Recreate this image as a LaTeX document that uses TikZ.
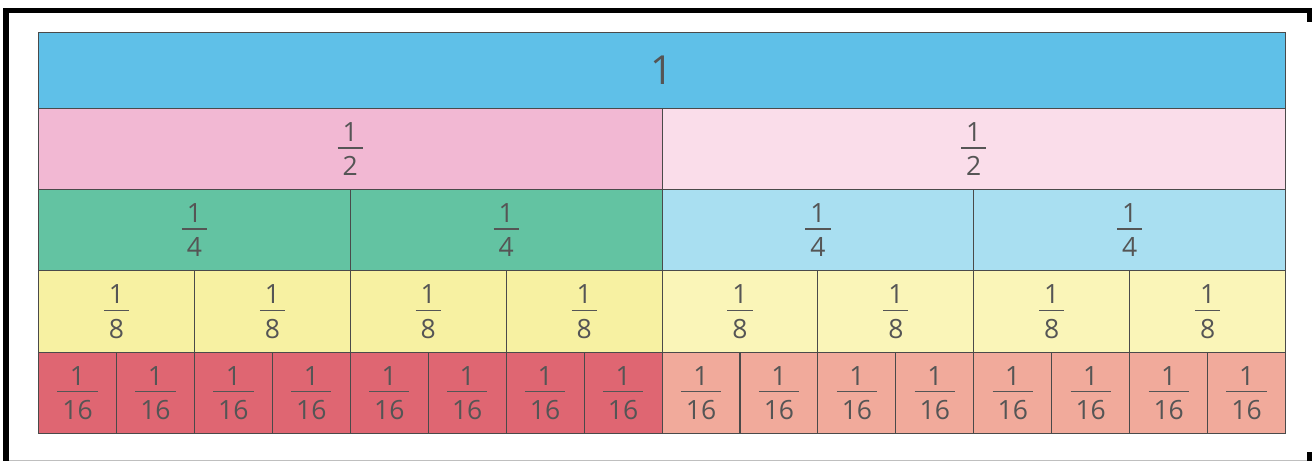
\documentclass[tikz,border=0pt]{standalone}
\usepackage{fontspec}
\newfontfamily\digfont{Open Sans}
\definecolor{cOne}{HTML}{5FC0E8}
\definecolor{cHalfA}{HTML}{F2B8D3}
\definecolor{cHalfB}{HTML}{FADDEA}
\definecolor{cQuarterA}{HTML}{63C3A2}
\definecolor{cQuarterB}{HTML}{A9DFF1}
\definecolor{cEighthA}{HTML}{F7F1A2}
\definecolor{cEighthB}{HTML}{FAF5B8}
\definecolor{cSixA}{HTML}{DF6672}
\definecolor{cSixB}{HTML}{F1AA9B}
\definecolor{ink}{HTML}{555555}
\definecolor{edge}{HTML}{4A4A4A}
\newcommand\myfr[1]{\vbox{\offinterlineskip\halign{\hfil\kern5pt##\kern5pt\hfil\cr
  1\cr\noalign{\kern6pt\hrule height 1.3pt\kern8pt}#1\cr}}}
\begin{document}
\begin{tikzpicture}[x=1pt,y=-1pt,
  cell/.style={draw=edge,line width=1.1pt,anchor=north west,inner sep=0pt,
    text=ink,font=\digfont\fontsize{26.5}{30}\selectfont},
  frame/.style={fill=black}]
\useasboundingbox (0,0) rectangle (1312,461);
% page frame
\fill[frame] (3,8) rectangle (9,461);
\fill[frame] (3,8) rectangle (1307,13);
\fill[frame] (1307,8) rectangle (1312,22);
\fill[frame] (1307,452) rectangle (1312,461);
\draw[black!25,line width=1pt] (9,460) -- (1307,460);
% row 1
\node[cell,fill=cOne,minimum width=1247pt,minimum height=76pt,
  font=\digfont\fontsize{40}{44}\selectfont] (one) at (38,32) {1};
% row 2
\foreach \i in {0,1}{
  \pgfmathsetmacro\xx{38+\i*623.5}
  \ifnum\i<1 \def\cc{cHalfA}\else\def\cc{cHalfB}\fi
  \node[cell,fill=\cc,minimum width=623.5pt,minimum height=81pt] (h\i) at (\xx,108) {\myfr{2}};
}
% row 3
\foreach \i in {0,...,3}{
  \pgfmathsetmacro\xx{38+\i*311.75}
  \ifnum\i<2 \def\cc{cQuarterA}\else\def\cc{cQuarterB}\fi
  \node[cell,fill=\cc,minimum width=311.75pt,minimum height=81pt] (q\i) at (\xx,189) {\myfr{4}};
}
% row 4
\foreach \i in {0,...,7}{
  \pgfmathsetmacro\xx{38+\i*155.875}
  \ifnum\i<4 \def\cc{cEighthA}\else\def\cc{cEighthB}\fi
  \node[cell,fill=\cc,minimum width=155.875pt,minimum height=82pt] (e\i) at (\xx,270) {\myfr{8}};
}
% row 5
\foreach \i in {0,...,15}{
  \pgfmathsetmacro\xx{38+\i*77.9375}
  \ifnum\i<8 \def\cc{cSixA}\else\def\cc{cSixB}\fi
  \node[cell,fill=\cc,minimum width=77.9375pt,minimum height=81pt] (s\i) at (\xx,352) {\myfr{16}};
}
\end{tikzpicture}
\end{document}
